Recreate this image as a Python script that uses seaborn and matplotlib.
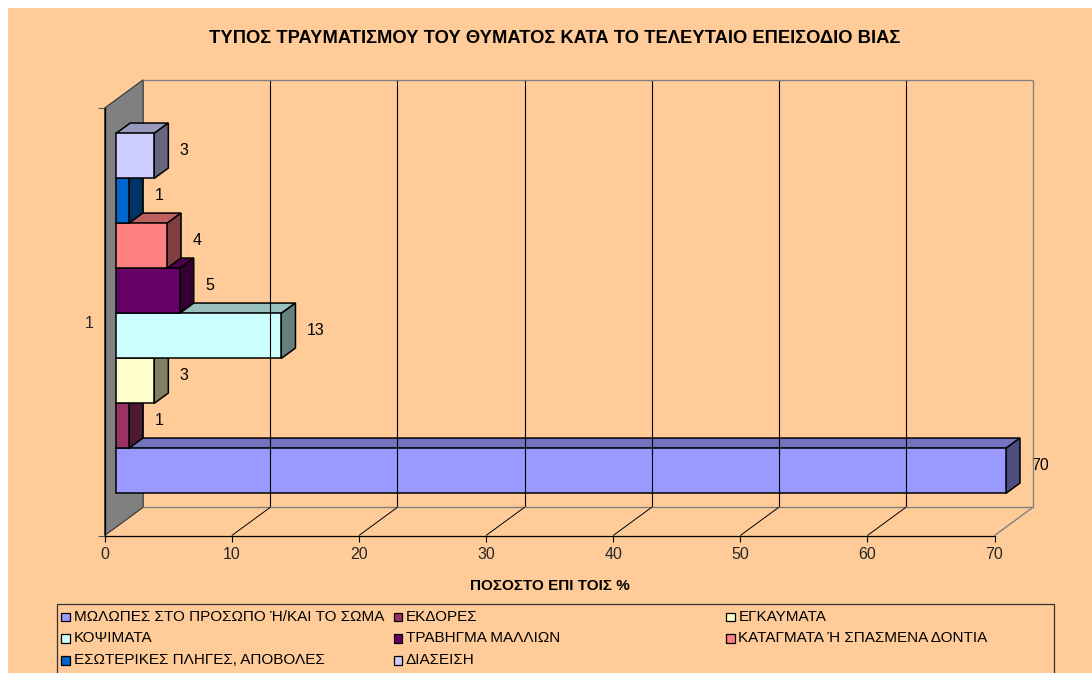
import numpy as np
import pandas as pd
import matplotlib
matplotlib.use("Agg")
import matplotlib.pyplot as plt
import seaborn as sns
from matplotlib.patches import Polygon, Rectangle
from matplotlib.lines import Line2D
from matplotlib.transforms import IdentityTransform, ScaledTranslation

# ---------------- data ----------------
title = "ΤΥΠΟΣ ΤΡΑΥΜΑΤΙΣΜΟΥ ΤΟΥ ΘΥΜΑΤΟΣ ΚΑΤΑ ΤΟ ΤΕΛΕΥΤΑΙΟ ΕΠΕΙΣΟΔΙΟ ΒΙΑΣ"
x_label = "ΠΟΣΟΣΤΟ ΕΠΙ ΤΟΙΣ %"
category_label = "1"
series = [
    "ΜΩΛΩΠΕΣ ΣΤΟ ΠΡΟΣΩΠΟ Ή/ΚΑΙ ΤΟ ΣΩΜΑ",
    "ΕΚΔΟΡΕΣ",
    "ΕΓΚΑΥΜΑΤΑ",
    "ΚΟΨΙΜΑΤΑ",
    "ΤΡΑΒΗΓΜΑ ΜΑΛΛΙΩΝ",
    "ΚΑΤΑΓΜΑΤΑ Ή ΣΠΑΣΜΕΝΑ ΔΟΝΤΙΑ",
    "ΕΣΩΤΕΡΙΚΕΣ ΠΛΗΓΕΣ, ΑΠΟΒΟΛΕΣ",
    "ΔΙΑΣΕΙΣΗ",
]
values = [70, 1, 3, 13, 5, 4, 1, 3]
colors = ["#9999FF", "#993366", "#FFFFCC", "#CCFFFF",
          "#660066", "#FF8080", "#0066CC", "#CCCCFF"]
x_ticks = [0, 10, 20, 30, 40, 50, 60, 70]

# ---------------- layout / style ----------------
W, H = 1092, 673
PEACH = "#FFCC99"
FONT = ["Liberation Sans", "DejaVu Sans"]

sns.set_theme(style="white")
plt.rcParams["font.family"] = FONT

fig = plt.figure(figsize=(W / 100, H / 100), dpi=100)
fig.patch.set_facecolor("white")
fig.add_artist(Rectangle((8 / W, 0), 1 - 8 / W, (H - 8) / H, transform=fig.transFigure,
                         facecolor=PEACH, edgecolor="none", zorder=0))

# front plane of the 3D box (pixels, top-left origin)
X0, X1 = 104.7, 994.5
YT, YB = 108.0, 535.5
ax = fig.add_axes([X0 / W, (H - YB) / H, (X1 - X0) / W, (YB - YT) / H])
ax.set_facecolor("none")
ax.set_zorder(1)

df = pd.DataFrame({"series": series, "value": values})
sns.barplot(data=df, x="value", y="series", hue="series", order=series, hue_order=series,
            palette=dict(zip(series, colors)), orient="h", width=1.0, dodge=False,
            legend=False, saturation=1, edgecolor="black", linewidth=1.1, ax=ax)

LO, HI = -1.25, 8.25
ax.set_xlim(x_ticks[0], x_ticks[-1])
ax.set_ylim(LO, HI)

# depth vectors (display px, y up)
DW = np.array([38.5, 28.2])          # whole box depth
FRONT = np.array([11.3, 8.3])        # bar front face offset
DB = np.array([14.2, 10.4])          # bar depth

def to_disp(x, y):
    return ax.transData.transform((x, y))

idt = IdentityTransform()

def line(p, q, color, lw=0.8, z=1.5):
    fig.add_artist(Line2D([p[0], q[0]], [p[1], q[1]], transform=idt, color=color,
                          lw=lw, zorder=z, solid_capstyle="butt"))

# left wall
wall = [to_disp(0, HI), to_disp(0, HI) + DW, to_disp(0, LO) + DW, to_disp(0, LO)]
ax.add_artist(Polygon(wall, closed=True, transform=idt, facecolor="#808080",
                      edgecolor="#333333", lw=0.8, zorder=0.5, clip_on=False))

# back wall gridlines and box border
for t in x_ticks[1:]:
    c = "#808080" if t == x_ticks[-1] else "black"
    line(to_disp(t, LO) + DW, to_disp(t, HI) + DW, c, lw=1.0 if t == x_ticks[-1] else 0.8)
line(to_disp(0, HI) + DW, to_disp(x_ticks[-1], HI) + DW, "#808080", lw=1.0)
line(to_disp(0, LO) + DW, to_disp(x_ticks[-1], LO) + DW, "#808080", lw=1.0)
line(to_disp(x_ticks[-1], LO), to_disp(x_ticks[-1], LO) + DW, "#808080", lw=1.0)
for t in x_ticks[1:-1]:
    line(to_disp(t, LO), to_disp(t, LO) + DW, "black", lw=0.7)

# bars: front face from seaborn, top and side faces added
def shade(c, f):
    r, g, b = matplotlib.colors.to_rgb(c)
    return (r * f, g * f, b * f)

front_tr = ax.transData + ScaledTranslation(FRONT[0] / 100, FRONT[1] / 100, fig.dpi_scale_trans)
for p in list(ax.patches):
    if not isinstance(p, Rectangle):
        continue
    x0, y0, w, h = p.get_x(), p.get_y(), p.get_width(), p.get_height()
    i = int(round(y0 + h / 2))
    z = 3 + i * 0.1
    p.set_transform(front_tr)
    p.set_clip_on(False)
    p.set_zorder(z + 0.02)
    tl = to_disp(x0, y0 + h) + FRONT
    tr = to_disp(x0 + w, y0 + h) + FRONT
    br = to_disp(x0 + w, y0) + FRONT
    ax.add_artist(Polygon([tl, tr, tr + DB, tl + DB], closed=True, transform=idt,
                          facecolor=shade(colors[i], 0.75), edgecolor="black", lw=1.1,
                          zorder=z, clip_on=False))
    ax.add_artist(Polygon([tr, br, br + DB, tr + DB], closed=True, transform=idt,
                          facecolor=shade(colors[i], 0.5), edgecolor="black", lw=1.1,
                          zorder=z, clip_on=False))
    mid = to_disp(x0 + w, y0 + h / 2) + FRONT
    ax.text(mid[0] + DB[0] + 11.5, mid[1] + DB[1] / 2, f"{values[i]:g}", transform=idt,
            ha="left", va="center", fontsize=11.5, color="black", zorder=10, clip_on=False)

# axes styling
for s in ["top", "right"]:
    ax.spines[s].set_visible(False)
for s in ["left", "bottom"]:
    ax.spines[s].set_color("black")
    ax.spines[s].set_linewidth(0.9)
    ax.spines[s].set_zorder(2)
ax.set_xticks(x_ticks)
ax.set_xticklabels([str(t) for t in x_ticks])
ax.tick_params(axis="x", direction="out", length=4.5, width=0.8, color="black",
               labelsize=11.5, pad=4, bottom=True)
ax.set_yticks([LO, HI])
ax.set_yticklabels(["", ""])
ax.set_yticks([(LO + HI) / 2], minor=True)
ax.set_yticklabels([category_label], minor=True)
ax.tick_params(axis="y", which="major", direction="out", length=5, width=0.8,
               color="#555555", left=True)
ax.tick_params(axis="y", which="minor", length=0, labelsize=11.5, pad=8)
ax.set_xlabel("")
ax.set_ylabel("")
ax.grid(False)

# title and axis title
fig.text(555 / W, 1 - 38.3 / H, title, ha="center", va="center", fontsize=13.2,
         fontweight="bold", color="black")
fig.text(550 / W, 1 - 586 / H, x_label, ha="center", va="center", fontsize=11,
         fontweight="bold", color="black")

# legend (row-wise, 3 columns)
fig.add_artist(Rectangle((57.3 / W, 1 - 690 / H), (1054 - 57.3) / W, (690 - 604.5) / H,
                         transform=fig.transFigure, facecolor=PEACH, edgecolor="#333333",
                         lw=0.9, zorder=1, clip_on=False))
col_x = [61.0, 393.5, 726.0]
row_y = [617.0, 638.5, 660.5]
SQ = 8.5
for k, (name, c) in enumerate(zip(series, colors)):
    r, cidx = divmod(k, 3)
    mx, my = col_x[cidx], row_y[r]
    fig.add_artist(Rectangle((mx / W, 1 - (my + SQ / 2) / H), SQ / W, SQ / H,
                             transform=fig.transFigure, facecolor=c, edgecolor="black",
                             lw=0.9, zorder=2))
    fig.text((mx + 12.5) / W, 1 - my / H, name, ha="left", va="center", fontsize=11,
             color="black", zorder=2)

fig.savefig("out.png", dpi=100, facecolor=fig.get_facecolor())
